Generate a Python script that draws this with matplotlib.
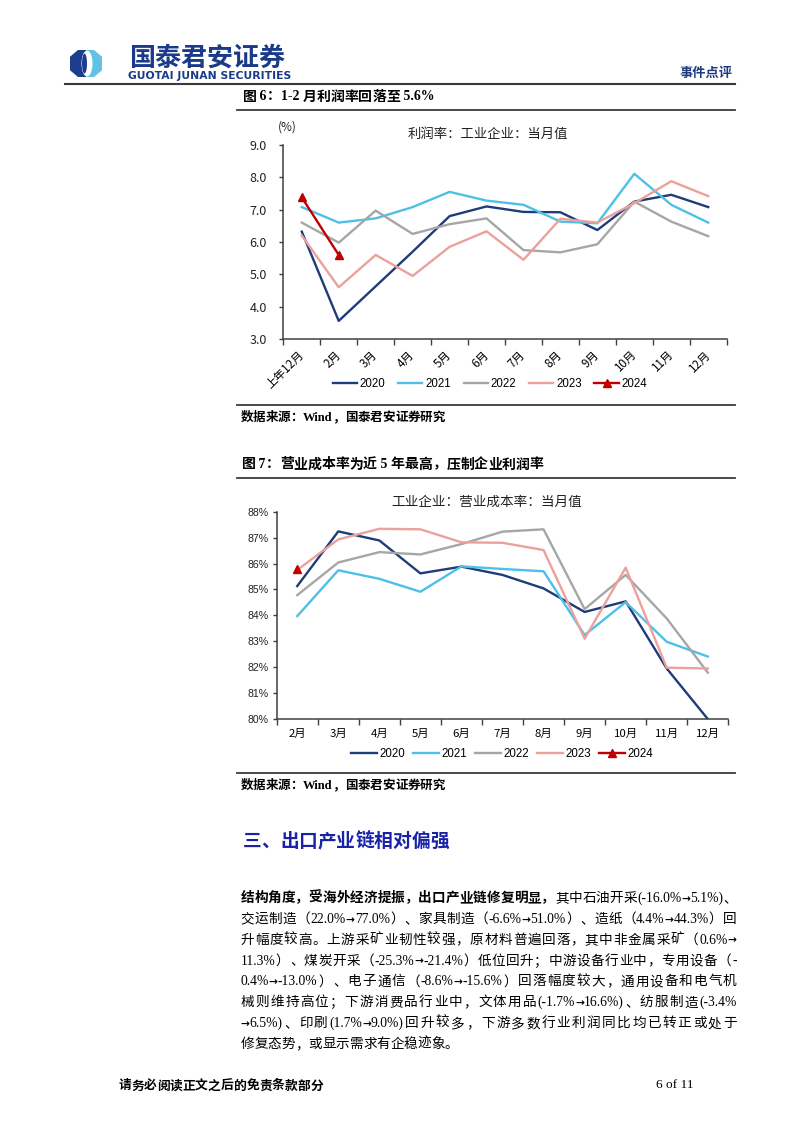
import re
import numpy as np
import matplotlib
matplotlib.use('Agg')
import matplotlib.pyplot as plt
from matplotlib.lines import Line2D
from matplotlib.patches import Polygon, Ellipse
from matplotlib.ticker import FixedLocator

CJK = 'Noto Sans CJK SC'
CJKF = [CJK, 'DejaVu Sans']
SERIF = ['Liberation Serif', CJK]
ARROW = ['DejaVu Sans', CJK]
plt.rcParams['font.family'] = [CJK, 'DejaVu Sans']
plt.rcParams['axes.unicode_minus'] = False

# ---------------- data ----------------
years = ['2020', '2021', '2022', '2023', '2024']

months1 = ['上年12月', '2月', '3月', '4月', '5月', '6月', '7月', '8月', '9月', '10月', '11月', '12月']
profit_2020 = [6.32, 3.56, 4.63, 5.70, 6.80, 7.10, 6.93, 6.92, 6.37, 7.25, 7.46, 7.08]
profit_2021 = [7.08, 6.60, 6.73, 7.08, 7.55, 7.28, 7.15, 6.63, 6.58, 8.11, 7.15, 6.60]
profit_2022 = [6.60, 5.98, 6.97, 6.25, 6.55, 6.73, 5.75, 5.68, 5.93, 7.25, 6.63, 6.18]
profit_2023 = [6.20, 4.60, 5.60, 4.95, 5.85, 6.33, 5.45, 6.72, 6.60, 7.20, 7.88, 7.42]
profit_2024 = [7.38, 5.60]
profit_yticks = [3.0, 4.0, 5.0, 6.0, 7.0, 8.0, 9.0]

months2 = ['2月', '3月', '4月', '5月', '6月', '7月', '8月', '9月', '10月', '11月', '12月']
cost_2020 = [85.13, 87.24, 86.89, 85.62, 85.88, 85.56, 85.04, 84.13, 84.54, 81.95, 80.00]
cost_2021 = [83.97, 85.74, 85.41, 84.91, 85.89, 85.79, 85.70, 83.24, 84.51, 82.98, 82.41]
cost_2022 = [84.78, 86.04, 86.44, 86.35, 86.75, 87.23, 87.32, 84.24, 85.56, 83.88, 81.79]
cost_2023 = [85.75, 86.93, 87.34, 87.32, 86.82, 86.80, 86.52, 83.10, 85.84, 81.98, 81.95]
cost_2024 = [85.79]
cost_yticks = [80, 81, 82, 83, 84, 85, 86, 87, 88]

colors = ['#1E3C7A', '#4EC0E8', '#A6A6A6', '#EBA19C', '#C00000']

title1 = '利润率：工业企业：当月值'
title2 = '工业企业：营业成本率：当月值'
fig6_caption = '图 6：1-2 月利润率回落至 5.6%'
fig7_caption = '图 7：营业成本率为近 5 年最高，压制企业利润率'
source_text = '数据来源：Wind，国泰君安证券研究'
section_heading = '三、出口产业链相对偏强'
para_lines = [
    '结构角度，受海外经济提振，出口产业链修复明显，其中石油开采(-16.0%→5.1%)、',
    '交运制造（22.0%→77.0%）、家具制造（-6.6%→51.0%）、造纸（4.4%→44.3%）回',
    '升幅度较高。上游采矿业韧性较强，原材料普遍回落，其中非金属采矿（0.6%→',
    '11.3%）、煤炭开采（-25.3%→-21.4%）低位回升；中游设备行业中，专用设备（-',
    '0.4%→-13.0%）、电子通信（-8.6%→-15.6%）回落幅度较大，通用设备和电气机',
    '械则维持高位；下游消费品行业中，文体用品(-1.7%→16.6%)、纺服制造(-3.4%',
    '→6.5%)、印刷(1.7%→9.0%)回升较多，下游多数行业利润同比均已转正或处于',
    '修复态势，或显示需求有企稳迹象。',
]
para_bold_chars = 23

# ---------------- figure ----------------
W, H = 802, 1133
fig = plt.figure(figsize=(W / 100, H / 100), dpi=100)
fig.patch.set_facecolor('white')
renderer = fig.canvas.get_renderer()


def fx(x):
    return x / W


def fy(y):
    return 1 - y / H


def hline(y, x0, x1, lw=1.3, color='#3a3a3a'):
    fig.add_artist(Line2D([fx(x0), fx(x1)], [fy(y), fy(y)], lw=lw, color=color,
                          transform=fig.transFigure))


_cache = {}


def _w(s, weight, family):
    t = fig.text(0, 0, s, fontsize=100, fontweight=weight, family=family)
    e = t.get_window_extent(renderer).width
    t.remove()
    return e


def metrics(tok, weight, family):
    key = (tok, weight, tuple(family))
    if key not in _cache:
        A = _w('国' + tok + '国', weight, family) - _w('国国', weight, family)
        d = _w(tok + '国', weight, family) - A - _w('国', weight, family)
        _cache[key] = (A / 100.0, d / 100.0)
    return _cache[key]


def groups(s):
    return re.findall(r'[\x00-\x7F→]+|.', s)


def subruns(g):
    return re.findall(r'→|[^→]+', g)


def fam_of(sr):
    if sr == '→':
        return ARROW, 0.78
    if re.match(r'[\x00-\x7F]', sr):
        return SERIF, 1.0
    return CJKF, 1.0


def draw_line(s, x0, yb, size, x1=None, bold_n=0, color='black', all_bold=False):
    items = []
    idx = 0
    for g in groups(s):
        weight = 'bold' if (all_bold or idx < bold_n) else 'normal'
        runs = []
        gw = 0
        for sr in subruns(g):
            fam, k = fam_of(sr)
            wt = 'bold' if sr == '→' else weight
            A, d = metrics(sr, wt, fam)
            runs.append((sr, wt, fam, size * k, A * size * k, d * size * k))
            gw += A * size * k
        items.append((runs, gw))
        idx += len(g)
    total = sum(it[1] for it in items)
    gap = 0
    if x1 is not None and len(items) > 1:
        gap = (x1 - x0 - total) / (len(items) - 1)
    x = x0
    for runs, gw in items:
        xr = x
        for sr, wt, fam, sz, A, d in runs:
            l0 = 0.04 * sz * 100 / 72
            yoff = -0.3 if sr == '→' else 0
            fig.text(fx(xr + l0 - d), fy(yb + yoff), sr, fontsize=sz, fontweight=wt,
                     family=fam, color=color, ha='left', va='baseline')
            xr += A
        x += gw + gap


# ---------------- header ----------------
cx, cy, rx, ry = 86, 63.5, 16, 13.5
left_pts = [(cx, cy - ry), (cx - rx * 0.5, cy - ry), (cx - rx, cy - ry * 0.5),
            (cx - rx, cy + ry * 0.5), (cx - rx * 0.5, cy + ry), (cx, cy + ry)]
right_pts = [(cx, cy - ry), (cx + rx * 0.5, cy - ry), (cx + rx, cy - ry * 0.5),
             (cx + rx, cy + ry * 0.5), (cx + rx * 0.5, cy + ry), (cx, cy + ry)]
fig.add_artist(Polygon([(fx(a), fy(b)) for a, b in left_pts], closed=True,
                       transform=fig.transFigure, facecolor='#1B3F8E', edgecolor='none'))
fig.add_artist(Polygon([(fx(a), fy(b)) for a, b in right_pts], closed=True,
                       transform=fig.transFigure, facecolor='#62C2E2', edgecolor='none'))
fig.add_artist(Ellipse((fx(cx + 1), fy(cy)), 11 / W, 26 / H, transform=fig.transFigure,
                       facecolor='white', edgecolor='none'))
fig.add_artist(Ellipse((fx(cx - 1.5), fy(cy)), 5 / W, 20 / H, transform=fig.transFigure,
                       facecolor='#1B3F8E', edgecolor='none'))

t = fig.text(fx(129), fy(66), '国泰君安证券', fontsize=18, fontweight='bold',
             color='#1B3A8A', ha='left', va='baseline')
w = t.get_window_extent(renderer).width
t.set_fontsize(18 * 156 / w)
t = fig.text(fx(128), fy(79), 'GUOTAI JUNAN SECURITIES', fontsize=7, fontweight='bold',
             color='#1B3A8A', ha='left', va='baseline', family=['DejaVu Sans'])
w = t.get_window_extent(renderer).width
t.set_fontsize(7 * 162 / w)
fig.text(fx(732), fy(73), '事件点评', fontsize=9.5, color='#1F3A80', ha='right', va='center',
         fontweight='bold')
hline(84, 65, 735, lw=1.5)

# ---------------- figure 6 ----------------
draw_line(fig6_caption, 242, 100.5, 10, all_bold=True)
hline(110, 237, 735)

ax1 = fig.add_axes([fx(283.3), fy(339), (726.7 - 283.3) / W, (339 - 145) / H])
for lbl, vals, c in zip(years[:4], [profit_2020, profit_2021, profit_2022, profit_2023], colors[:4]):
    ax1.plot(range(len(vals)), vals, color=c, lw=1.7, label=lbl)
ax1.plot(range(len(profit_2024)), profit_2024, color=colors[4], lw=1.7, marker='^', ms=6,
         label=years[4])
ax1.set_xlim(-0.5, len(months1) - 0.5)
ax1.set_ylim(profit_yticks[0], profit_yticks[-1])
ax1.set_yticks(profit_yticks)
ax1.set_yticklabels([f'{v:.1f}' for v in profit_yticks], fontsize=9)
ax1.set_xticks(range(len(months1)))
ax1.set_xticklabels(months1, rotation=45, ha='right', va='center', rotation_mode='anchor',
                    fontsize=8.4)
ax1.xaxis.set_minor_locator(FixedLocator(np.arange(-0.5, len(months1), 1.0)))
ax1.tick_params(axis='x', which='major', length=0, pad=10)
ax1.tick_params(axis='x', which='minor', length=4, width=1, color='#404040')
ax1.tick_params(axis='y', length=3, width=1, color='#404040', pad=9, labelcolor='#222222')
for s in ['top', 'right']:
    ax1.spines[s].set_visible(False)
for s in ['left', 'bottom']:
    ax1.spines[s].set_color('#404040')
    ax1.spines[s].set_linewidth(1.1)
fig.text(fx(488), fy(134), title1, fontsize=9.6, ha='center', va='center', color='#222222')
fig.text(fx(287), fy(127), '(%)', fontsize=8.5, ha='center', va='center', color='#222222')
h1, l1 = ax1.get_legend_handles_labels()
fig.legend(h1, l1, loc='center', bbox_to_anchor=(fx(490), fy(384)), ncol=5, frameon=False,
           handlelength=2.1, handletextpad=0.25, columnspacing=1.1,
           prop={'family': ['Liberation Sans'], 'size': 8.3})

hline(405, 237, 735)
draw_line(source_text, 240, 421, 9, all_bold=True)

# ---------------- figure 7 ----------------
draw_line(fig7_caption, 241, 468.5, 10, all_bold=True)
hline(478, 237, 735)

ax2 = fig.add_axes([fx(276.7), fy(719), (728.3 - 276.7) / W, (719 - 511.7) / H])
for lbl, vals, c in zip(years[:4], [cost_2020, cost_2021, cost_2022, cost_2023], colors[:4]):
    ax2.plot(range(len(vals)), vals, color=c, lw=1.7, label=lbl)
ax2.plot(range(len(cost_2024)), cost_2024, color=colors[4], lw=1.7, marker='^', ms=6,
         label=years[4])
ax2.set_xlim(-0.5, len(months2) - 0.5)
ax2.set_ylim(cost_yticks[0], cost_yticks[-1])
ax2.set_yticks(cost_yticks)
ax2.set_yticklabels([f'{v}%' for v in cost_yticks], fontsize=7.6, family=['Liberation Sans'])
ax2.set_xticks(range(len(months2)))
ax2.set_xticklabels(months2, fontsize=8.2)
ax2.xaxis.set_minor_locator(FixedLocator(np.arange(-0.5, len(months2), 1.0)))
ax2.tick_params(axis='x', which='major', length=0, pad=7)
ax2.tick_params(axis='x', which='minor', length=4, width=1, color='#404040')
ax2.tick_params(axis='y', length=3, width=1, color='#404040', pad=3, labelcolor='#222222')
for s in ['top', 'right']:
    ax2.spines[s].set_visible(False)
for s in ['left', 'bottom']:
    ax2.spines[s].set_color('#404040')
    ax2.spines[s].set_linewidth(1.1)
fig.text(fx(487), fy(502), title2, fontsize=9.8, ha='center', va='center', color='#222222')
h2, l2 = ax2.get_legend_handles_labels()
fig.legend(h2, l2, loc='center', bbox_to_anchor=(fx(502), fy(754)), ncol=5, frameon=False,
           handlelength=2.3, handletextpad=0.2, columnspacing=0.65,
           prop={'family': ['Liberation Sans'], 'size': 8.3})

hline(773, 237, 735)
draw_line(source_text, 240, 789, 9, all_bold=True)

# ---------------- section text ----------------
draw_line(section_heading, 242, 847, 13.5, all_bold=True, color='#1A23A8')

y0, dy = 902, 20.86
for i, line in enumerate(para_lines):
    last = (i == len(para_lines) - 1)
    draw_line(line, 240, y0 + i * dy, 9.8, x1=None if last else 736,
              bold_n=para_bold_chars if i == 0 else 0)

# ---------------- footer ----------------
draw_line('请务必阅读正文之后的免责条款部分', 118, 1089.5, 9.2, all_bold=True)
fig.text(fx(675), fy(1085), '6 of 11', fontsize=9.5, family=SERIF, ha='center', va='center')

fig.savefig('out.png', dpi=100, facecolor='white')
